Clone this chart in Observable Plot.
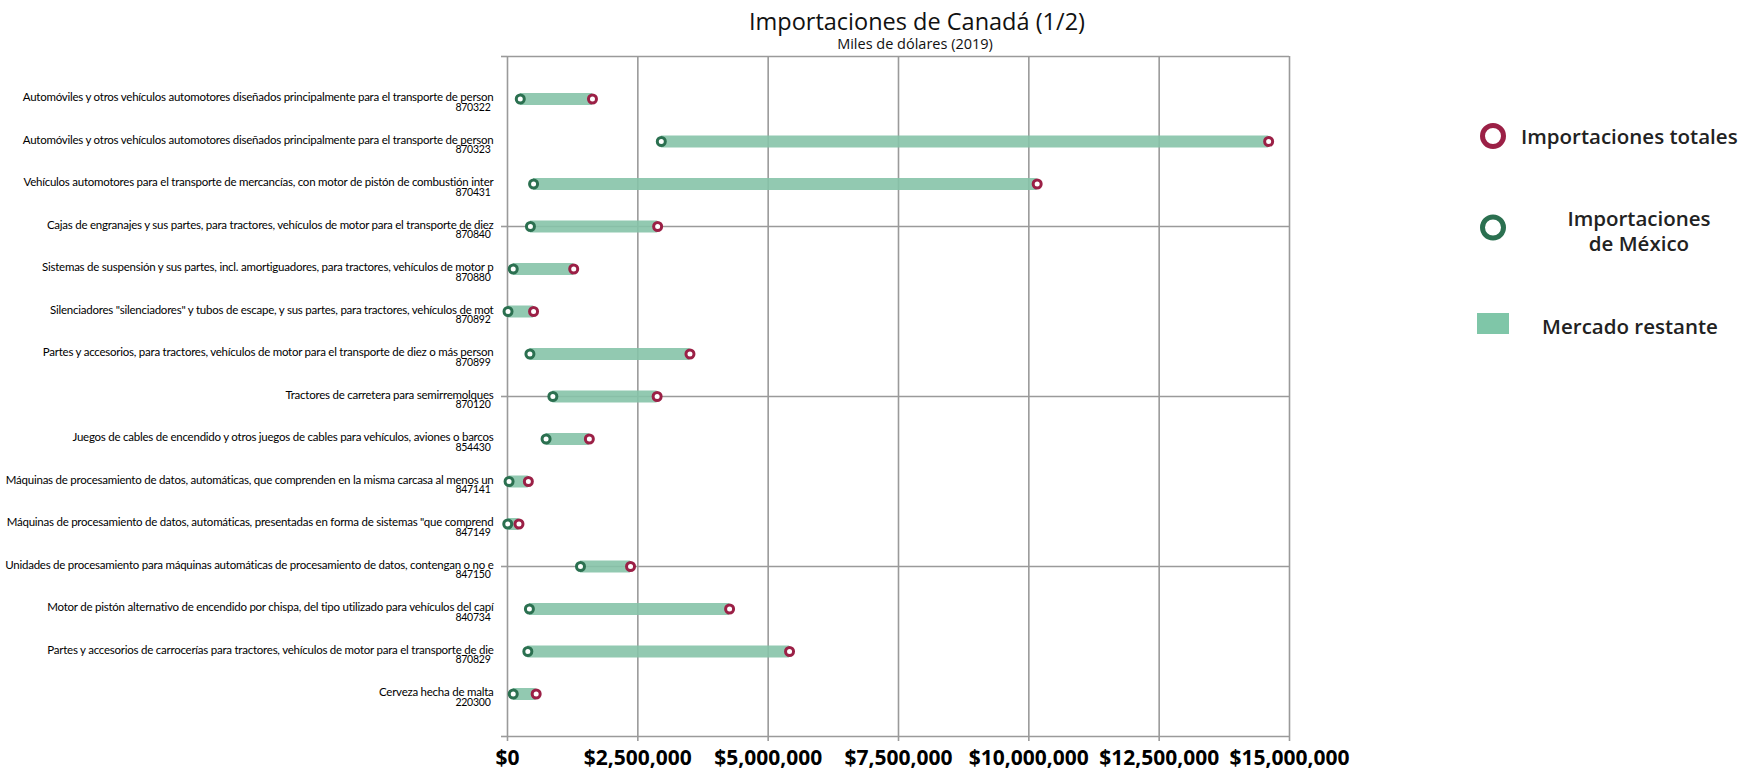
<!DOCTYPE html>
<html>
<head>
<meta charset="utf-8">
<script src="https://cdn.jsdelivr.net/npm/d3@7"></script>
<script src="https://cdn.jsdelivr.net/npm/@observablehq/plot@0.6"></script>
<style>
  body { margin: 0; background: #fff; }
  #wrap { position: relative; width: 1760px; height: 775px; overflow: hidden; background: #fff; }
  #chart { position: absolute; left: 0; top: 0; }
  .title { position: absolute; left: 917px; top: 22px; transform: translate(-50%, -50%); font: 400 23.5px "Open Sans", sans-serif; line-height: 1; color: #111; white-space: nowrap; }
  .subtitle { position: absolute; left: 915px; top: 44px; transform: translate(-50%, -50%); font: 500 14.5px "Open Sans", sans-serif; line-height: 1; color: #111; white-space: nowrap; }
  .leg { position: absolute; font: 600 20.5px "Open Sans", sans-serif; color: #222; white-space: nowrap; line-height: 25px; }
  .legc { position: absolute; transform: translate(-50%, -50%); text-align: center; }
  .legsym { position: absolute; }
</style>
</head>
<body>
<div id="wrap">
  <div id="chart"></div>
  <div class="title">Importaciones de Canadá (1/2)</div>
  <div class="subtitle">Miles de dólares (2019)</div>

  <svg class="legsym" style="left:1478px;top:122px" width="30" height="30"><circle cx="15" cy="14" r="10.5" fill="#fff" stroke="#9b2046" stroke-width="5"/></svg>
  <div class="leg" style="left:1521px;top:124px">Importaciones totales</div>

  <svg class="legsym" style="left:1478px;top:213px" width="30" height="30"><circle cx="15" cy="14.5" r="10.5" fill="#fff" stroke="#2b7050" stroke-width="5"/></svg>
  <div class="leg legc" style="left:1639px;top:231px">Importaciones<br>de México</div>

  <svg class="legsym" style="left:1477px;top:313px" width="33" height="22"><rect x="0" y="0" width="32" height="21" fill="#7fc6a8"/></svg>
  <div class="leg legc" style="left:1630px;top:326px">Mercado restante</div>
</div>
<script>
const descriptions = [
  "Automóviles y otros vehículos automotores diseñados principalmente para el transporte de person",
  "Automóviles y otros vehículos automotores diseñados principalmente para el transporte de person",
  "Vehículos automotores para el transporte de mercancías, con motor de pistón de combustión inter",
  "Cajas de engranajes y sus partes, para tractores, vehículos de motor para el transporte de diez",
  "Sistemas de suspensión y sus partes, incl. amortiguadores, para tractores, vehículos de motor p",
  "Silenciadores \"silenciadores\" y tubos de escape, y sus partes, para tractores, vehículos de mot",
  "Partes y accesorios, para tractores, vehículos de motor para el transporte de diez o más person",
  "Tractores de carretera para semirremolques",
  "Juegos de cables de encendido y otros juegos de cables para vehículos, aviones o barcos",
  "Máquinas de procesamiento de datos, automáticas, que comprenden en la misma carcasa al menos un",
  "Máquinas de procesamiento de datos, automáticas, presentadas en forma de sistemas \"que comprend",
  "Unidades de procesamiento para máquinas automáticas de procesamiento de datos, contengan o no e",
  "Motor de pistón alternativo de encendido por chispa, del tipo utilizado para vehículos del capí",
  "Partes y accesorios de carrocerías para tractores, vehículos de motor para el transporte de die",
  "Cerveza hecha de malta"
];
const codes = ["870322","870323","870431","870840","870880","870892","870899","870120","854430","847141","847149","847150","840734","870829","220300"];
const mexico = [245000, 2950000, 500000, 440000, 110000, 10000, 430000, 870000, 740000, 30000, 5000, 1400000, 420000, 390000, 110000];
const totals = [1630000, 14600000, 10160000, 2880000, 1270000, 500000, 3500000, 2870000, 1570000, 400000, 220000, 2360000, 4260000, 5410000, 550000];
const xTicks = [0, 2500000, 5000000, 7500000, 10000000, 12500000, 15000000];
const yGrid = [-1, 3, 7, 11, 15];

const rows = descriptions.map((d, i) => ({i, desc: d, code: codes[i], mex: mexico[i], total: totals[i]}));

const grid = "#9a9a9a";
const plot = Plot.plot({
  width: 1760,
  height: 775,
  marginTop: 56,
  marginBottom: 39,
  marginLeft: 507,
  marginRight: 471,
  style: {background: "transparent"},
  x: {domain: [0, 15000000], label: null},
  y: {domain: [-1, 15], reverse: true, label: null},
  marks: [
    Plot.ruleX(xTicks, {y1: -1, y2: 15, stroke: grid, strokeWidth: 1.6}),
    Plot.ruleY(yGrid, {x1: 0, x2: 15000000, stroke: grid, strokeWidth: 1.6}),
    Plot.axisX({ticks: xTicks, label: null, tickSize: 5, tickPadding: 9, stroke: grid, strokeWidth: 1.6, fill: "#000",
      tickFormat: d => "$" + d3.format(",")(d), fontSize: 21, fontWeight: 700, fontFamily: "Open Sans"}),
    Plot.axisY({ticks: yGrid, label: null, tickSize: 6, stroke: grid, strokeWidth: 1.6, tickFormat: () => ""}),
    Plot.ruleY(rows, {y: "i", x1: "mex", x2: "total", stroke: "#86c3a8", strokeWidth: 12, strokeOpacity: 0.9}),
    Plot.dot(rows, {x: "mex", y: "i", r: 4, stroke: "#2b7050", strokeWidth: 3, fill: "#fff"}),
    Plot.dot(rows, {x: "total", y: "i", r: 4, stroke: "#9b2046", strokeWidth: 3, fill: "#fff"}),
    Plot.text(rows, {x: 0, y: "i", text: "desc", dx: -14, dy: -1.5, textAnchor: "end", fontSize: 11.5, fontFamily: "Lato", fill: "#000"}),
    Plot.text(rows, {x: 0, y: "i", text: "code", dx: -17, dy: 8.5, textAnchor: "end", fontSize: 10.5, fontFamily: "Lato", fill: "#000"})
  ]
});
d3.select(plot).selectAll('g[aria-label="text"] text').style("letter-spacing", "-0.24px");
document.getElementById("chart").appendChild(plot);
</script>
</body>
</html>
